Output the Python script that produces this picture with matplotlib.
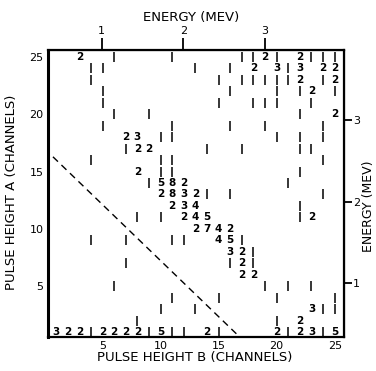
import matplotlib
matplotlib.use("Agg")
import matplotlib.pyplot as plt

# ---- data: counts at (pulse height B, pulse height A) ----
rows_A = {
    25: [(3, 2), (6, 1), (11, 1), (17, 1), (18, 1), (19, 2), (20, 1), (22, 2), (23, 1), (24, 1), (25, 1)],
    24: [(4, 1), (5, 1), (13, 1), (16, 1), (18, 2), (20, 3), (21, 1), (22, 3), (24, 2), (25, 2)],
    23: [(4, 1), (15, 1), (17, 1), (18, 1), (19, 1), (20, 1), (21, 1), (22, 2), (24, 1), (25, 2)],
    22: [(5, 1), (16, 1), (20, 1), (22, 1), (23, 2), (25, 1)],
    21: [(5, 1), (15, 1), (18, 1), (19, 1), (20, 1), (23, 1)],
    20: [(6, 1), (9, 1), (22, 1), (25, 2)],
    19: [(5, 1), (11, 1), (16, 1), (19, 1), (24, 1)],
    18: [(7, 2), (8, 3), (10, 1), (11, 1), (20, 1), (22, 1), (24, 1)],
    17: [(7, 1), (8, 2), (9, 2), (14, 1), (17, 1), (22, 1), (23, 1)],
    16: [(4, 1), (10, 1), (11, 1), (24, 1)],
    15: [(8, 2), (10, 1), (11, 1), (22, 1)],
    14: [(9, 1), (10, 5), (11, 8), (12, 2), (21, 1)],
    13: [(10, 2), (11, 8), (12, 3), (13, 2), (14, 1), (16, 1), (24, 1)],
    12: [(11, 2), (12, 3), (13, 4), (22, 1)],
    11: [(8, 1), (10, 1), (12, 2), (13, 4), (14, 5), (22, 1), (23, 2)],
    10: [(13, 2), (14, 7), (15, 4), (16, 2)],
    9: [(4, 1), (7, 1), (11, 1), (12, 1), (15, 4), (16, 5), (17, 1)],
    8: [(16, 3), (17, 2), (18, 1)],
    7: [(7, 1), (16, 1), (17, 2), (18, 1)],
    6: [(17, 2), (18, 2)],
    5: [(6, 1), (19, 1), (21, 1), (23, 1)],
    4: [(11, 1), (15, 1), (20, 1), (25, 1)],
    3: [(10, 1), (13, 1), (23, 3), (24, 1), (25, 1)],
    2: [(8, 1), (20, 1), (22, 2)],
    1: [(1, 3), (2, 2), (3, 2), (4, 1), (5, 2), (6, 2), (7, 2), (8, 2), (9, 1), (10, 5),
        (11, 1), (12, 1), (14, 2), (15, 1), (20, 2), (21, 1), (22, 2), (23, 3), (24, 1), (25, 5)],
}
cell_B = [b for a, cells in rows_A.items() for b, c in cells]
cell_A = [a for a, cells in rows_A.items() for b, c in cells]
cell_count = [c for a, cells in rows_A.items() for b, c in cells]

x_ticks = [5, 10, 15, 20, 25]
y_ticks = [5, 10, 15, 20, 25]
energy_ticks = [1, 2, 3]
dashed_B = [0.0, 17.4]
dashed_A = [17.0, 0.0]

fig = plt.figure(figsize=(3.76, 3.71), dpi=100)
ax = fig.add_axes([47.7 / 376, 1 - 337 / 371, (344 - 47.7) / 376, (337 - 50) / 371])
ax.set_xlim(0.28, 25.8)
ax.set_ylim(0.57, 25.6)

for b, a, c in zip(cell_B, cell_A, cell_count):
    if c == 1:
        ax.plot(b, a, marker='|', ms=7.5, mew=1.1, color='black', ls='none')
    else:
        ax.text(b, a, str(c), ha='center', va='center', fontsize=7.5,
                fontweight='bold', color='black')

ax.plot(dashed_B, dashed_A, ls=(0, (5, 3.5)), lw=1.0, color='black')

ax.set_xticks(x_ticks)
ax.set_yticks(y_ticks)
ax.tick_params(axis='both', length=0, labelsize=8, pad=3)
for s in ax.spines.values():
    s.set_linewidth(1.6)
ax.spines['left'].set_linewidth(2.2)

# energy axes
b2e = lambda b: (b + 2.1) / 7.03
e2b = lambda e: e * 7.03 - 2.1
a2e = lambda a: (a + 1.82) / 7.1
e2a = lambda e: e * 7.1 - 1.82
top = ax.secondary_xaxis('top', functions=(b2e, e2b))
top.set_xticks(energy_ticks)
top.tick_params(length=9, width=1.3, labelsize=8, pad=1)
right = ax.secondary_yaxis('right', functions=(a2e, e2a))
right.set_yticks(energy_ticks)
right.tick_params(length=6, width=1.3, labelsize=8, pad=0.5)

fig.text(191 / 376, 1 - 18 / 371, "ENERGY (MEV)", ha='center', va='center', fontsize=9.5)
fig.text(195 / 376, 1 - 358 / 371, "PULSE HEIGHT B (CHANNELS)", ha='center', va='center', fontsize=9.5)
fig.text(12 / 376, 1 - 192 / 371, "PULSE HEIGHT A (CHANNELS)", ha='center', va='center',
         rotation=90, fontsize=9.5)
fig.text(368.5 / 376, 1 - 206 / 371, "ENERGY (MEV)", ha='center', va='center',
         rotation=90, fontsize=9)

fig.savefig("out.png", dpi=100)
